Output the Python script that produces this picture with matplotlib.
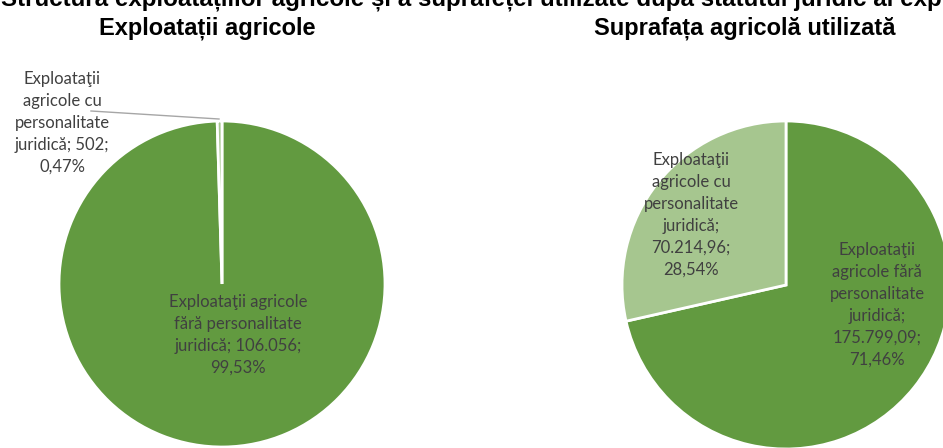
import matplotlib
matplotlib.use("Agg")
import matplotlib.pyplot as plt

# Data
main_title = "Structura exploatațiilor agricole și a suprafeței utilizate după statutul juridic al exploatațiilor"
titles = ["Exploatații agricole", "Suprafața agricolă utilizată"]
categories = ["Exploataţii agricole fără personalitate juridică",
              "Exploataţii agricole cu personalitate juridică"]
farms_values = [106056, 502]
farms_labels = ["Exploataţii agricole\nfără personalitate\njuridică; 106.056;\n99,53%",
                "Exploataţii\nagricole cu\npersonalitate\njuridică; 502;\n0,47%"]
area_values = [175799.09, 70214.96]
area_labels = ["Exploataţii\nagricole fără\npersonalitate\njuridică;\n175.799,09;\n71,46%",
               "Exploataţii\nagricole cu\npersonalitate\njuridică;\n70.214,96;\n28,54%"]

colors = ["#629A40", "#A6C68F"]
W, H = 943, 448

fig = plt.figure(figsize=(W / 100, H / 100), dpi=100)
ax = fig.add_axes([0, 0, 1, 1])

wp = dict(edgecolor="white", linewidth=2)
ax.pie(farms_values, colors=colors, startangle=90, counterclock=False,
       center=(222, H - 284), radius=163, wedgeprops=wp)
ax.pie(area_values, colors=colors, startangle=90, counterclock=False,
       center=(786, H - 285), radius=164, wedgeprops=wp)

ax.set_xlim(0, W)
ax.set_ylim(0, H)
ax.set_aspect("auto")
ax.axis("off")

lab = dict(fontsize=12, color="#404040", family=["Lato", "DejaVu Sans"],
           ha="center", va="center", linespacing=1.45)
ax.text(238, H - 335, farms_labels[0], **lab)
ax.text(62, H - 123, farms_labels[1], **lab)
ax.text(877, H - 305, area_labels[0], **lab)
ax.text(691, H - 215, area_labels[1], **lab)

# leader line
ax.plot([91, 219], [H - 111, H - 119], color="#A6A6A6", linewidth=1)

tt = dict(fontsize=17, fontweight="bold", family=["Liberation Sans", "DejaVu Sans"],
          ha="center", va="baseline", color="black")
ax.text(207, H - 34, titles[0], **tt)
ax.text(745, H - 34, titles[1], **tt)
ax.text(1, H - 5, main_title, fontsize=17.4, fontweight="bold",
        family=["Liberation Sans", "DejaVu Sans"], ha="left", va="baseline")

fig.savefig("out.png", dpi=100)
